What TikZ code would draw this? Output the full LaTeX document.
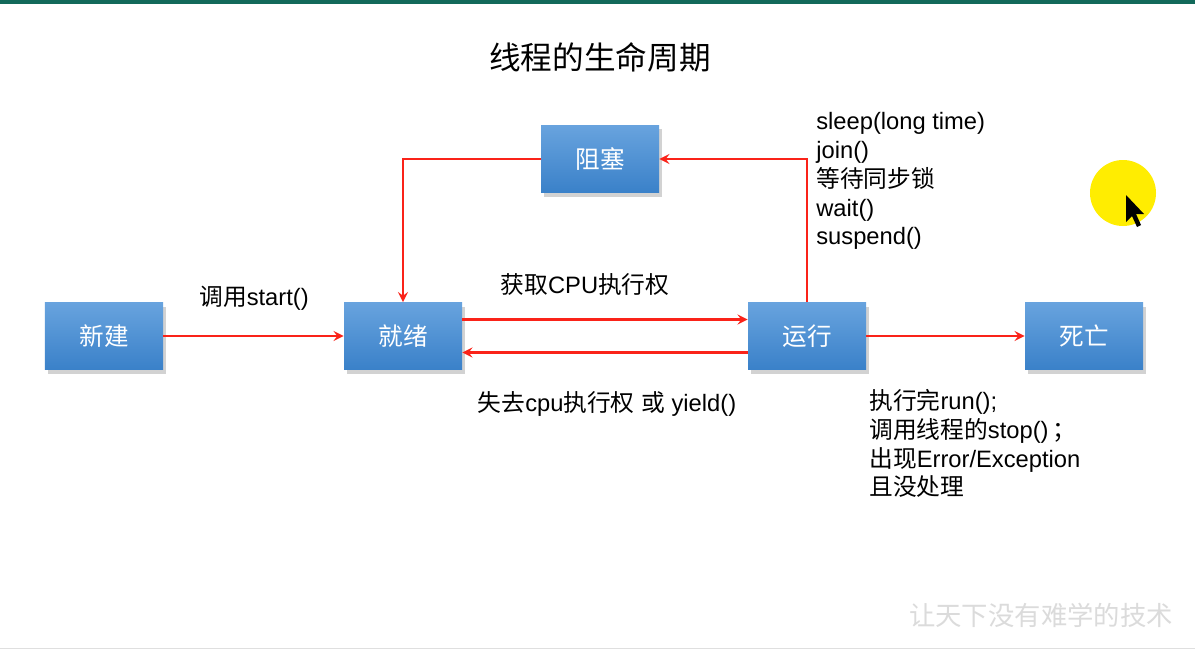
\documentclass[tikz,border=0pt]{standalone}
\usepackage{fontspec}
\setmainfont{Liberation Sans}
\newfontfamily\cjk{Noto Sans CJK SC}
\usetikzlibrary{shadows}
\definecolor{arrowred}{RGB}{250,35,25}
\definecolor{boxtop}{RGB}{104,163,222}
\definecolor{boxbot}{RGB}{58,129,201}
\definecolor{barteal}{RGB}{18,105,90}
\begin{document}
\begin{tikzpicture}[>=stealth,x=0.2mm,y=-0.2mm,
  state/.style={minimum width=23.6mm,minimum height=13.4mm,inner sep=0pt,
    top color=boxtop,bottom color=boxbot,text=white,
    font=\fontsize{14}{16}\selectfont\cjk,
    drop shadow={opacity=0.35,shadow xshift=0.6mm,shadow yshift=-0.8mm}},
  flow/.style={->,arrowred,line width=1.5pt},
  lbl/.style={font=\fontsize{13.5}{16.4}\selectfont,inner sep=0pt}]
\useasboundingbox (0,0) rectangle (1195,649);
\fill[white] (0,0) rectangle (1195,649);
\fill[barteal] (0,0) rectangle (1195,4);
\draw[gray!25] (0,648) -- (1195,648);
\node[font=\fontsize{18}{20}\selectfont\cjk] (title) at (600,57) {线程的生命周期};
% 五个状态
\node[state] (xj) at (104,336) {新建};
\node[state] (jx) at (403,336) {就绪};
\node[state] (yx) at (807,336) {运行};
\node[state] (sw) at (1084,336) {死亡};
\node[state] (zs) at (600,159) {阻塞};
% 状态转换
\draw[flow] (xj) -- (jx);
\draw[flow] ([yshift=3.3mm]jx.east) -- ([yshift=3.3mm]yx.west);
\draw[flow] ([yshift=-3.3mm]yx.west) -- ([yshift=-3.3mm]jx.east);
\draw[flow] (yx) -- (sw);
\draw[flow] (yx.north) |- (zs.east);
\draw[flow] (zs.west) -| (jx.north);
\node[lbl] (l1) at (254,298) {{\cjk 调用}start()};
\node[lbl] (l2) at (585,285) {{\cjk 获取}CPU{\cjk 执行权}};
\node[lbl] (l3) at (607,404) {{\cjk 失去}cpu{\cjk 执行权} {\cjk 或} yield()};
\node[lbl,align=left,anchor=north west] (l4) at (816,112)
  {sleep(long time)\\join()\\{\cjk 等待同步锁}\\wait()\\suspend()};
\node[lbl,align=left,anchor=north west] (l5) at (869,389)
  {{\cjk 执行完}run();\\{\cjk 调用线程的}stop()\,{\cjk ；}\\{\cjk 出现}Error/Exception\\{\cjk 且没处理}};
% 鼠标指示
\fill[yellow!95!orange] (1123,193) circle[radius=33];
\fill[black] (1126,195) -- (1126,222) -- (1132,216) -- (1137,227) -- (1141,225)
  -- (1136,214) -- (1144,214) -- cycle;
\node[font=\fontsize{15}{16}\selectfont\cjk,gray!28] (wm) at (1041,615) {让天下没有难学的技术};
\end{tikzpicture}
\end{document}
